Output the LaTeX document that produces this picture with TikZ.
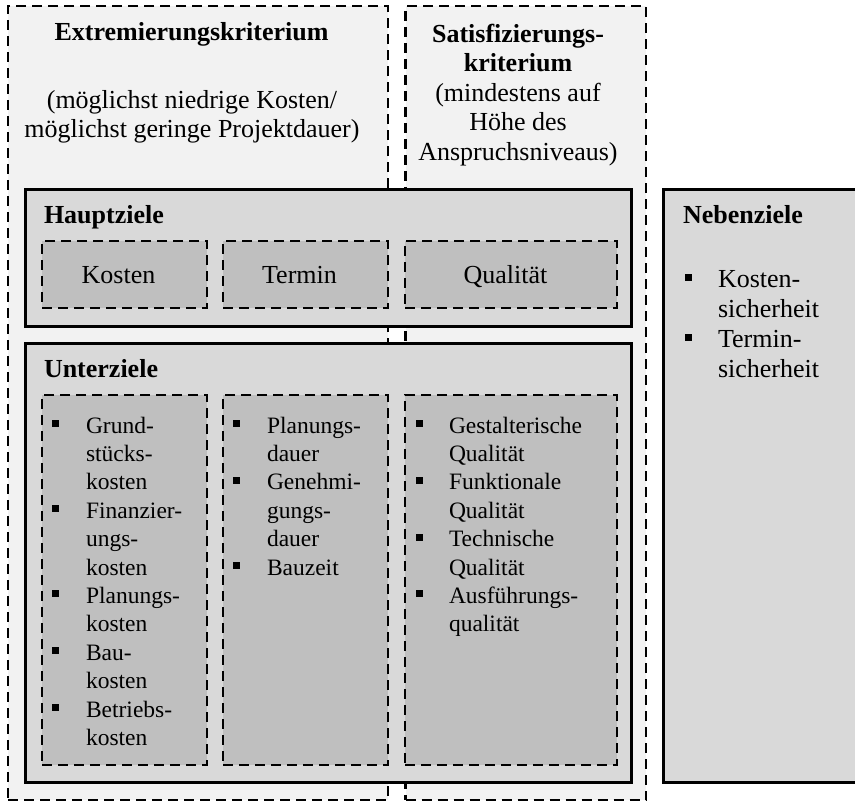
\documentclass[tikz,border=0pt]{standalone}
\usepackage{fontspec}
\setmainfont{Liberation Serif}
\definecolor{critfill}{HTML}{F2F2F2}
\definecolor{goalfill}{HTML}{D9D9D9}
\definecolor{subfill}{HTML}{BFBFBF}
\begin{document}
\begin{tikzpicture}[x=1pt,y=-1pt,
  critbox/.style={draw=black, fill=critfill, line width=2.6pt, dash pattern=on 10pt off 6pt, anchor=north west, inner sep=0pt, outer sep=0pt},
  goalbox/.style={draw=black, fill=goalfill, line width=3pt, anchor=north west, inner sep=0pt, outer sep=0pt},
  subbox/.style={draw=black, fill=subfill, line width=2.6pt, dash pattern=on 10pt off 6pt, anchor=north west, inner sep=0pt, outer sep=0pt},
  bigtxt/.style={inner sep=0pt, outer sep=0pt, font=\fontsize{26}{29.5}\selectfont},
  listtxt/.style={inner sep=0pt, outer sep=0pt, align=left, anchor=north west, font=\fontsize{23.5}{28.4}\selectfont},
  nebtxt/.style={inner sep=0pt, outer sep=0pt, align=left, anchor=north west, font=\fontsize{26}{30}\selectfont},
  bulletsq/.style={fill=black, draw=none, minimum size=7pt, inner sep=0pt, outer sep=0pt, rectangle}
]
\useasboundingbox (0,0) rectangle (855,801);
\clip (0,0) rectangle (855,801);

% criterion columns
\node[critbox, minimum width=380pt, minimum height=794pt] (extr) at (8,6) {};
\node[critbox, minimum width=240.5pt, minimum height=794pt] (satis) at (405.5,6) {};

\node[bigtxt, font=\fontsize{26}{29.5}\selectfont\bfseries, anchor=base] (extrtitle) at (191.5,40) {Extremierungskriterium};
\node[bigtxt, align=center, anchor=north] (extrtext) at (192,87.35) {\strut(möglichst niedrige Kosten/\\möglichst geringe Projektdauer)};
\node[bigtxt, align=center, anchor=north] (satistext) at (518,21.35) {\strut\textbf{Satisfizierungs-}\\\textbf{kriterium}\\(mindestens auf\\Höhe des\\Anspruchsniveaus)};

% goal boxes
\node[goalbox, minimum width=606pt, minimum height=137pt] (haupt) at (25,189) {};
\node[goalbox, minimum width=606pt, minimum height=439.5pt] (unter) at (25,343) {};
\node[goalbox, minimum width=220pt, minimum height=593.5pt] (neben) at (663,189) {};

\node[bigtxt, font=\fontsize{26}{29.5}\selectfont\bfseries, anchor=base west] (hauptlabel) at (44,223) {Hauptziele};
\node[bigtxt, font=\fontsize{26}{29.5}\selectfont\bfseries, anchor=base west] (unterlabel) at (44,377) {Unterziele};
\node[bigtxt, font=\fontsize{26}{29.5}\selectfont\bfseries, anchor=base west] (nebenlabel) at (683,223) {Nebenziele};

% Hauptziele inner boxes
\node[subbox, minimum width=165pt, minimum height=67pt] (hk) at (42,241) {};
\node[subbox, minimum width=165pt, minimum height=67pt] (ht) at (223,241) {};
\node[subbox, minimum width=212pt, minimum height=67pt] (hq) at (405,241) {};
\node[bigtxt, anchor=base] (hktxt) at (118.5,283) {Kosten};
\node[bigtxt, anchor=base] (httxt) at (299.5,283) {Termin};
\node[bigtxt, anchor=base] (hqtxt) at (505.5,283) {Qualität};

% Unterziele inner boxes
\node[subbox, minimum width=165pt, minimum height=370pt] (uk) at (42,395) {};
\node[subbox, minimum width=165pt, minimum height=370pt] (ut) at (223,395) {};
\node[subbox, minimum width=212pt, minimum height=370pt] (uq) at (405,395) {};

\node[listtxt] (uktxt) at (86,413.12) {\strut Grund-\\stücks-\\kosten\\Finanzier-\\ungs-\\kosten\\Planungs-\\kosten\\Bau-\\kosten\\Betriebs-\\kosten};
\node[listtxt] (uttxt) at (267,413.12) {\strut Planungs-\\dauer\\Genehmi-\\gungs-\\dauer\\Bauzeit};
\node[listtxt] (uqtxt) at (449,413.12) {\strut Gestalterische\\Qualität\\Funktionale\\Qualität\\Technische\\Qualität\\Ausführungs-\\qualität};

\foreach \k [count=\i] in {0,3,6,8,10} {
  \node[bulletsq] (bk\i) at (55,{433+\k*28.4-9.5}) {};
}
\foreach \k [count=\i] in {0,2,5} {
  \node[bulletsq] (bt\i) at (236,{433+\k*28.4-9.5}) {};
}
\foreach \k [count=\i] in {0,2,4,6} {
  \node[bulletsq] (bq\i) at (419,{433+\k*28.4-9.5}) {};
}

% Nebenziele list
\node[nebtxt] (nebtxtlist) at (718,266) {\strut Kosten-\\sicherheit\\Termin-\\sicherheit};
\foreach \k [count=\i] in {0,2} {
  \node[bulletsq] (bn\i) at (688,{287+\k*30-9.5}) {};
}
\end{tikzpicture}
\end{document}
